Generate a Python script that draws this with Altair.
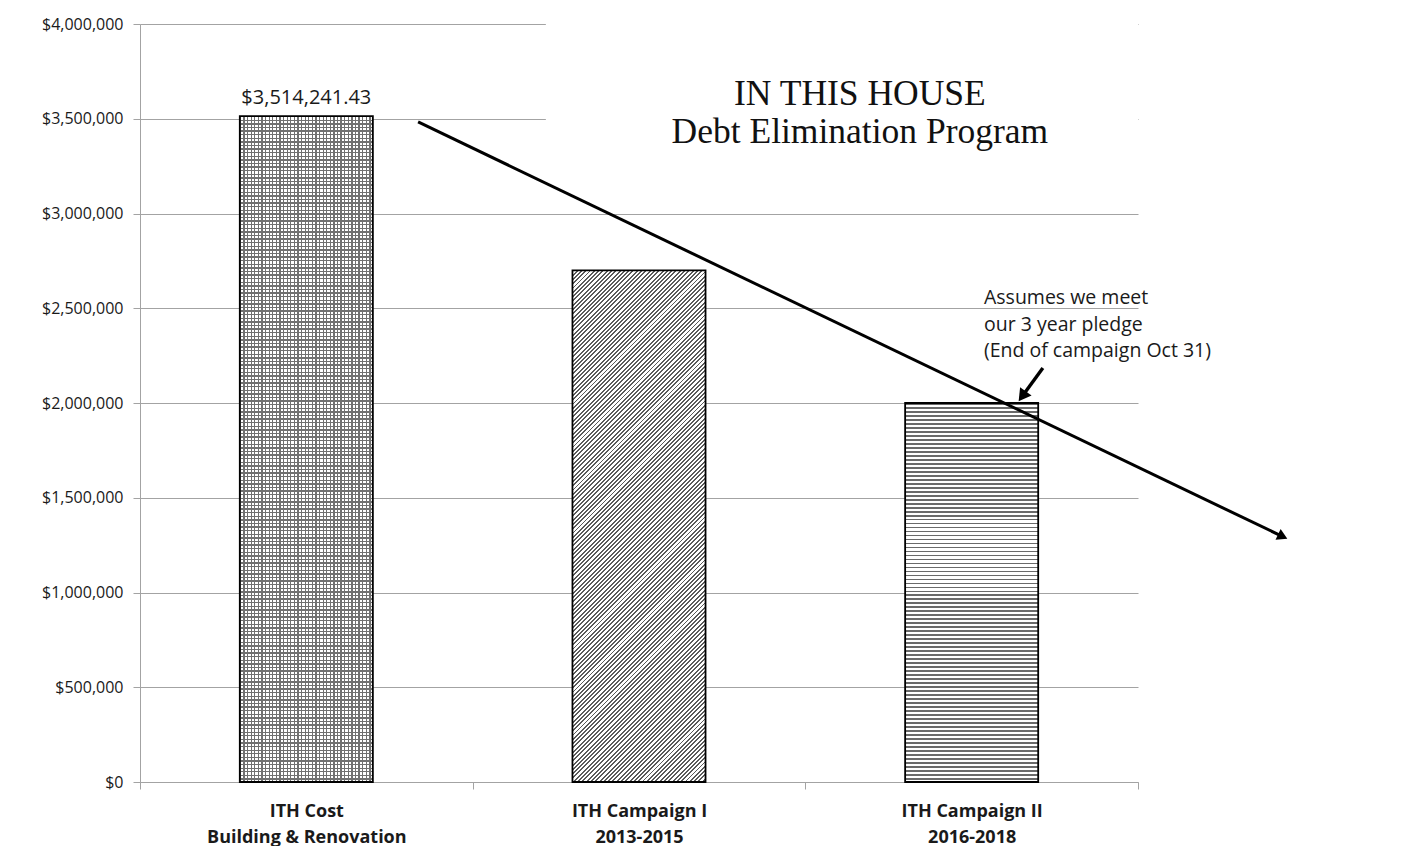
import math
import altair as alt
import pandas as pd

# ---------------- data ----------------
categories = ["ITH Cost|Building & Renovation",
              "ITH Campaign I|2013-2015",
              "ITH Campaign II|2016-2018"]
values = [3514241.43, 2700000, 2000000]
value_labels = ["$3,514,241.43", "", ""]

title_text = "IN THIS HOUSE\nDebt Elimination Program"
title_x = [1.664]
title_y = [3630000]

note_text = "Assumes we meet\nour 3 year pledge\n(End of campaign Oct 31)"
note_x = [2.037]
note_y = [2554000]

trend_x = [0.336, 2.935]
trend_y = [3483000, 1295000]
note_arrow_x = [2.214, 2.152]
note_arrow_y = [2185000, 2035000]

mask_x = [0.72, 2.5]
mask_y = [3330000, 4050000]

y_ticks = [0, 500000, 1000000, 1500000, 2000000, 2500000, 3000000, 3500000, 4000000]

# ---------------- layout constants ----------------
W, H = 998, 758
X_DOMAIN = [-0.5, 2.5]
Y_DOMAIN = [0, 4000000]
BAR_HALF = 0.2
PX_X = W / (X_DOMAIN[1] - X_DOMAIN[0])
PX_Y = H / (Y_DOMAIN[1] - Y_DOMAIN[0])

GRID = "#a3a3a3"
TXT = "#1a1a1a"
FONT = "Open Sans"

xscale = alt.Scale(domain=X_DOMAIN, nice=False, zero=False)
yscale = alt.Scale(domain=Y_DOMAIN, nice=False)

label_expr = ""
for i, c in enumerate(categories):
    parts = ",".join("'" + p + "'" for p in c.split("|"))
    label_expr += f"datum.value == {i} ? [{parts}] : "
label_expr += "''"

xaxis = alt.Axis(
    values=[-0.5, 0, 0.5, 1, 1.5, 2, 2.5],
    labelExpr=label_expr,
    grid=False,
    domainColor=GRID,
    tickColor=GRID,
    tickSize=7,
    tickOpacity={"condition": {"test": "datum.value % 1 == 0", "value": 0}, "value": 1},
    labelFont=FONT,
    labelFontSize=18,
    labelFontWeight="bold",
    labelColor=TXT,
    labelLineHeight=26,
    labelPadding=13,
    labelOverlap=False,
    labelFlush=False,
    labelBound=False,
    labelLimit=0,
    title=None,
)
yaxis = alt.Axis(
    values=y_ticks,
    format="$,.0f",
    grid=True,
    gridColor=GRID,
    domainColor=GRID,
    tickColor=GRID,
    tickSize=7,
    labelFont=FONT,
    labelFontSize=16,
    labelColor=TXT,
    labelPadding=10,
    title=None,
)


def X(field):
    return alt.X(field, type="quantitative", scale=xscale, axis=xaxis)


def Y(field):
    return alt.Y(field, type="quantitative", scale=yscale, axis=yaxis)


# ---------------- stripe gradients (hatch patterns) ----------------
def stripes(n, color, bg, duty, x2, y2):
    stops = []
    for i in range(n):
        a = i / n
        b = (i + duty) / n
        c = (i + 1) / n
        stops += [alt.GradientStop(offset=a, color=color),
                  alt.GradientStop(offset=b, color=color),
                  alt.GradientStop(offset=b, color=bg),
                  alt.GradientStop(offset=c, color=bg)]
    return alt.Gradient(gradient="linear", stops=stops, x1=0, y1=0, x2=x2, y2=y2)


bar_w = 2 * BAR_HALF * PX_X
bar_h = [v * PX_Y for v in values]

df = pd.DataFrame({
    "idx": list(range(len(categories))),
    "value": values,
    "label": value_labels,
})
base = alt.Chart(df).transform_calculate(
    x0=f"datum.idx - {BAR_HALF}", x1=f"datum.idx + {BAR_HALF}", zero="0"
)

# bar 1: crosshatch (vertical + horizontal stripes)
b1 = base.transform_filter("datum.idx == 0")
bar1_v = b1.mark_bar(fill=stripes(int(round(bar_w / 3.6)), "#707070", "#ffffff", 0.36, 1, 0)).encode(
    x=X("x0"), x2="x1", y=Y("value"), y2="zero")
bar1_h = b1.mark_bar(fill=stripes(int(round(bar_h[0] / 3.6)), "#707070", "transparent", 0.36, 0, 1),
                     stroke="black", strokeWidth=1.8).encode(
    x=X("x0"), x2="x1", y=Y("value"), y2="zero")

# bar 2: diagonal stripes "/"
w2, h2 = bar_w, bar_h[1]
s = (w2 + h2) / (w2 ** 2 + h2 ** 2)
bar2 = base.transform_filter("datum.idx == 1").mark_bar(
    fill=stripes(int(round((w2 + h2) / 4.3)), "#5a5a5a", "#ffffff", 0.45, s * w2, s * h2),
    stroke="black", strokeWidth=1.8).encode(
    x=X("x0"), x2="x1", y=Y("value"), y2="zero")

# bar 3: horizontal stripes
bar3 = base.transform_filter("datum.idx == 2").mark_bar(
    fill=stripes(int(round(bar_h[2] / 4.0)), "#6a6a6a", "#ffffff", 0.45, 0, 1),
    stroke="black", strokeWidth=1.8).encode(
    x=X("x0"), x2="x1", y=Y("value"), y2="zero")

value_text = base.transform_filter("datum.label != ''").mark_text(
    font=FONT, fontSize=20, color=TXT, baseline="middle", dy=-18).encode(
    x=X("idx"), y=Y("value"), text="label:N")

# white mask behind title (hides gridlines there)
mask = alt.Chart(pd.DataFrame({"x": [mask_x[0]], "x2": [mask_x[1]],
                               "y": [mask_y[0]], "y2": [mask_y[1]]})).mark_rect(
    fill="white").encode(x=X("x"), x2="x2", y=Y("y"), y2="y2")

title = alt.Chart(pd.DataFrame({"x": title_x, "y": title_y, "t": [title_text]})).mark_text(
    font="Liberation Serif", fontSize=35.5, color="#111111", lineBreak="\n", lineHeight=37.5,
    baseline="middle", align="center").encode(x=X("x"), y=Y("y"), text="t:N")

note = alt.Chart(pd.DataFrame({"x": note_x, "y": note_y, "t": [note_text]})).mark_text(
    font=FONT, fontSize=19.5, color=TXT, lineBreak="\n", lineHeight=26.5,
    baseline="middle", align="left").encode(x=X("x"), y=Y("y"), text="t:N")


def arrow(xs, ys, width, head):
    d = pd.DataFrame({"x": [xs[0]], "y": [ys[0]], "x2": [xs[1]], "y2": [ys[1]]})
    dx = (xs[1] - xs[0]) * PX_X
    dy = -(ys[1] - ys[0]) * PX_Y
    ang = math.degrees(math.atan2(dy, dx)) % 360
    line = alt.Chart(d).mark_rule(color="black", strokeWidth=width).encode(
        x=X("x"), x2="x2", y=Y("y"), y2="y2")
    tip = alt.Chart(d).mark_point(shape="triangle-right", filled=True, color="black",
                                  opacity=1, size=head, angle=ang).encode(
        x=X("x2"), y=Y("y2"))
    return [line, tip]


layers = [mask, bar1_v, bar1_h, bar2, bar3, value_text, title, note]
layers += arrow(trend_x, trend_y, 3, 140)
layers += arrow(note_arrow_x, note_arrow_y, 3.4, 200)

chart = alt.layer(*layers).properties(
    width=W, height=H,
    padding={"left": 132, "top": 16, "right": 281, "bottom": 64},
    autosize=alt.AutoSizeParams(type="none"),
    background="white",
).configure_view(stroke=None)

chart.save("out.html", embed_options={"renderer": "svg", "actions": False})
